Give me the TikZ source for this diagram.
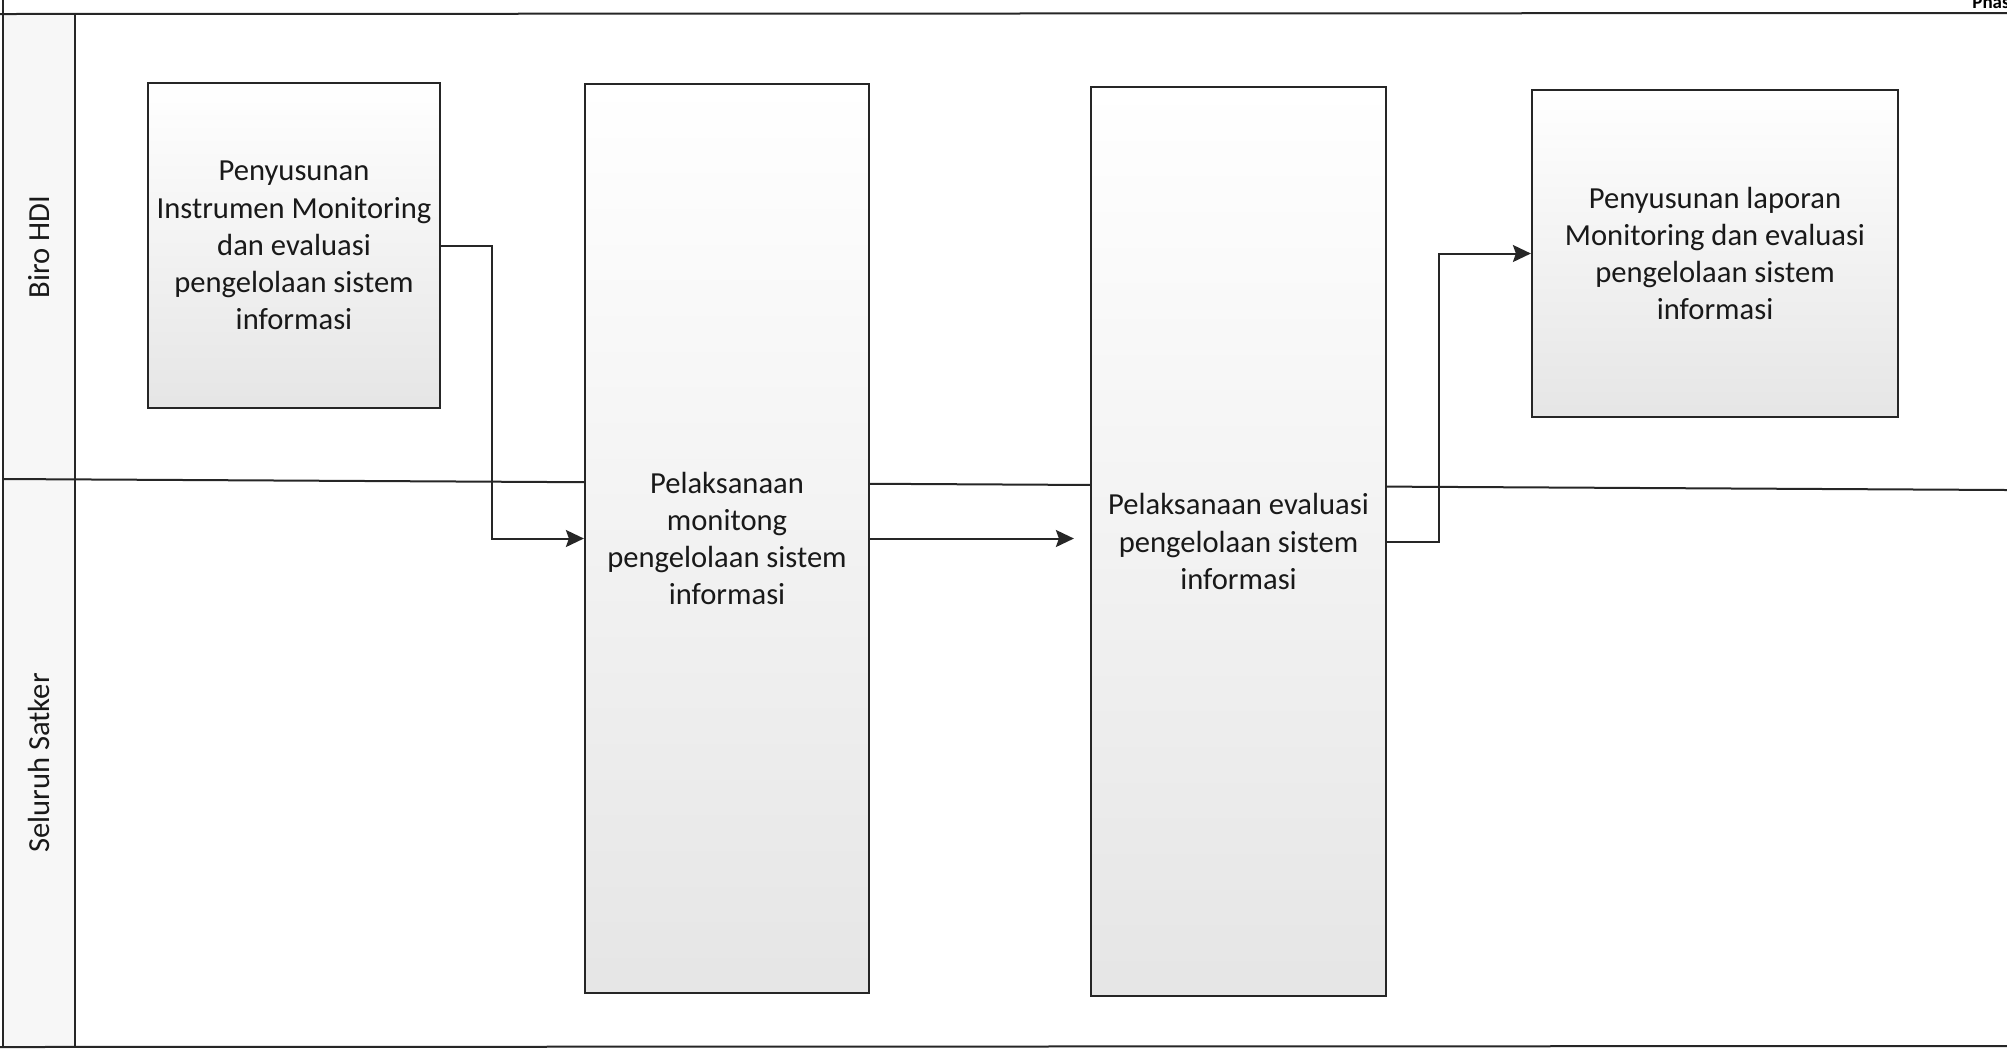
\documentclass[tikz,border=0pt]{standalone}
\usepackage{fontspec}
\setmainfont{Carlito}
\usetikzlibrary{arrows.meta}
\begin{document}
\begin{tikzpicture}[x=0.5pt,y=-0.5pt,
  frameline/.style={draw=black!85, line width=1pt},
  procbox/.style={draw=black!85, line width=1.1pt, top color=white, bottom color=black!10,
    inner sep=0pt, align=center, font=\fontsize{15.3pt}{18.6pt}\selectfont, text=black!90},
  lanelabel/.style={rotate=90, font=\fontsize{15.3pt}{18.6pt}\selectfont, text=black!90},
  flow/.style={draw=black!85, line width=1pt, -{Stealth[length=9pt,width=8.5pt,inset=1.5pt]}}
]
\useasboundingbox (0,0) rectangle (2007,1057);
% lane label column
\fill[black!3] (3,14) rectangle (75,1047);
% frame lines
\draw[frameline] (0,14) -- (2007,13);
\draw[frameline] (0,1047) -- (2007,1046);
\draw[frameline] (3,0) -- (3,1047);
\draw[frameline] (75,14) -- (75,1047);
\draw[frameline] (3,479) -- (2007,490);
% truncated heading at top right
\node[anchor=base west, inner sep=0pt, font=\fontsize{9.5pt}{11pt}\selectfont\bfseries] (phase) at (1972,8) {Phas};
% lane labels
\node[lanelabel] (laneA) at (39,247) {Biro HDI};
\node[lanelabel] (laneB) at (39,763) {Seluruh Satker};
% process boxes
\node[procbox, minimum width=146pt, minimum height=162.5pt] (b1) at (294,245.5)
  {Penyusunan\\Instrumen Monitoring\\dan evaluasi\\pengelolaan sistem\\informasi};
\node[procbox, minimum width=142pt, minimum height=454.5pt] (b2) at (727,538.5)
  {Pelaksanaan\\monitong\\pengelolaan sistem\\informasi};
\node[procbox, minimum width=147.5pt, minimum height=454.5pt] (b3) at (1238.5,541.5)
  {Pelaksanaan evaluasi\\pengelolaan sistem\\informasi};
\node[procbox, minimum width=183pt, minimum height=163.5pt] (b4) at (1715,253.5)
  {Penyusunan laporan\\Monitoring dan evaluasi\\pengelolaan sistem\\informasi};
% connectors
\coordinate (k1) at (492,400);
\coordinate (k3) at (1439,400);
\draw[flow] (b1.east) -| (k1) |- (b2.west);
\draw[flow, shorten >=8pt] (b2.east) -- (b2.east -| b3.west);
\draw[flow] (b3.east) -| (k3) |- (b4.west);
\end{tikzpicture}
\end{document}
